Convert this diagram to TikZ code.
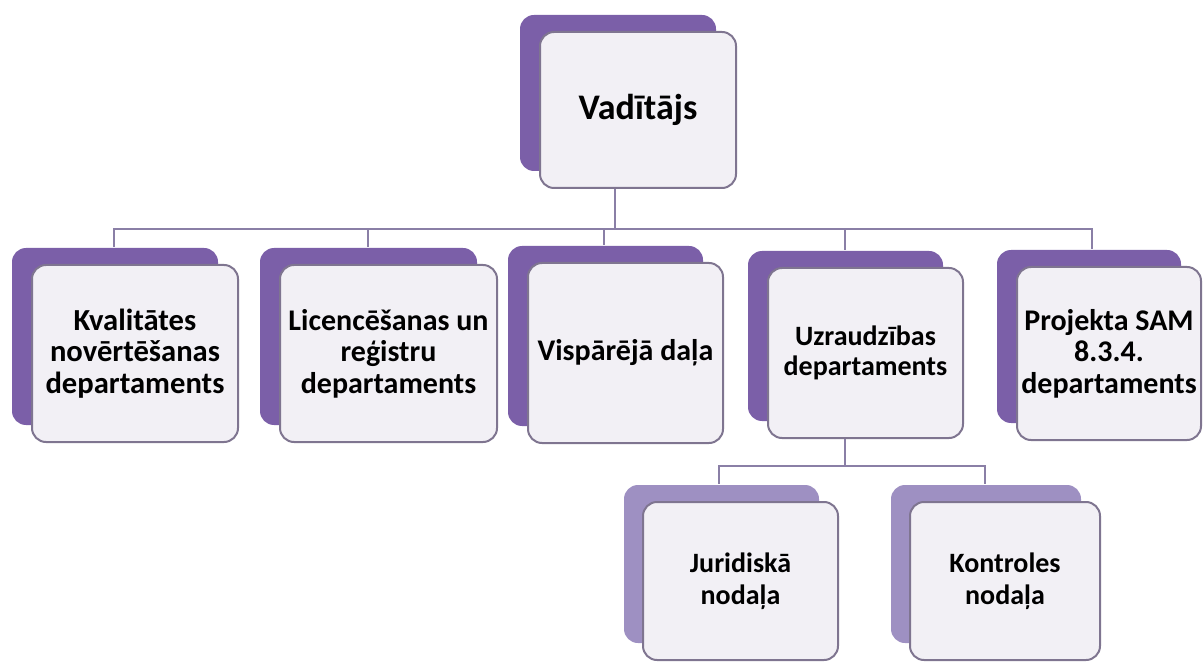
\documentclass[tikz,border=0pt]{standalone}
\usepackage{fontspec}
\setmainfont{Carlito}
\usetikzlibrary{shadows}
\definecolor{deptviolet}{HTML}{7B5FA8}
\definecolor{unitviolet}{HTML}{9E90C2}
\definecolor{boxfill}{HTML}{F2F0F5}
\definecolor{boxline}{HTML}{7F7590}
\definecolor{linkline}{HTML}{8A7FA6}

\begin{document}
\begin{tikzpicture}[x=0.5pt,y=-0.5pt,inner sep=0pt,
                    rounded corners=7pt]
  \tikzstyle{card}=[draw=boxline,fill=boxfill,line width=1pt,align=center]
  \tikzstyle{dept}=[card,general shadow={fill=deptviolet,shadow xshift=-10pt,shadow yshift=8.5pt},
                    font=\bfseries\fontsize{15}{15.8}\selectfont]
  \tikzstyle{unit}=[card,general shadow={fill=unitviolet,shadow xshift=-9.5pt,shadow yshift=8.5pt},
                    font=\bfseries\fontsize{14}{15.8}\selectfont]
  \tikzstyle{link}=[draw=linkline,line width=1pt,rounded corners=0pt]

  \useasboundingbox (0,0) rectangle (1203,662);

  \node[dept,minimum width=98pt,minimum height=78pt,
        font=\bfseries\fontsize{18}{20}\selectfont] (boss) at (638,110) {Vadītājs};

  % departamenti
  \node[dept,minimum width=103pt,minimum height=88.5pt,
        font=\bfseries\fontsize{15.3}{15.8}\selectfont] (kval) at (135,353.5)
        {Kvalitātes\\novērtēšanas\\departaments};
  \node[dept,minimum width=108.5pt,minimum height=88.5pt] (lic) at (388.5,353.5)
        {Licencēšanas un\\reģistru\\departaments};
  \node[dept,minimum width=97.5pt,minimum height=90pt] (visp) at (625.5,353)
        {Vispārējā daļa};
  \node[dept,minimum width=97.5pt,minimum height=85pt,
        font=\bfseries\fontsize{14}{15.3}\selectfont] (uzr) at (865.5,353)
        {Uzraudzības\\departaments};
  \node[dept,minimum width=92pt,minimum height=86.5pt] (sam) at (1109,353.5)
        {Projekta SAM\\8.3.4.\\departaments};

  % nodaļas
  \node[unit,minimum width=97.5pt,minimum height=79pt] (jur) at (740.5,581)
        {Juridiskā\\nodaļa};
  \node[unit,minimum width=95pt,minimum height=79pt] (kontr) at (1005,581)
        {Kontroles\\nodaļa};

  \draw[link] ([xshift=-11.5pt]boss.south) -- ++(0,-20pt) -| ([xshift=-10.5pt,yshift=8.5pt]kval.north)
              ([xshift=-11.5pt]boss.south) -- ++(0,-20pt) -| ([xshift=-10.5pt,yshift=8.5pt]lic.north)
              ([xshift=-11.5pt]boss.south) -- ++(0,-20pt) -| ([xshift=-11pt,yshift=8.5pt]visp.north)
              ([xshift=-11.5pt]boss.south) -- ++(0,-20pt) -| ([xshift=-10.5pt,yshift=8.5pt]uzr.north)
              ([xshift=-11.5pt]boss.south) -- ++(0,-20pt) -| ([xshift=-8.5pt,yshift=8.5pt]sam.north);
  \draw[link] ([xshift=-10.5pt]uzr.south) -- ++(0,-13.5pt) -| ([xshift=-11pt,yshift=8.5pt]jur.north)
              ([xshift=-10.5pt]uzr.south) -- ++(0,-13.5pt) -| ([xshift=-10pt,yshift=8.5pt]kontr.north);
  %\draw[link] (visp.south) -- (jur.north);
\end{tikzpicture}
\end{document}
